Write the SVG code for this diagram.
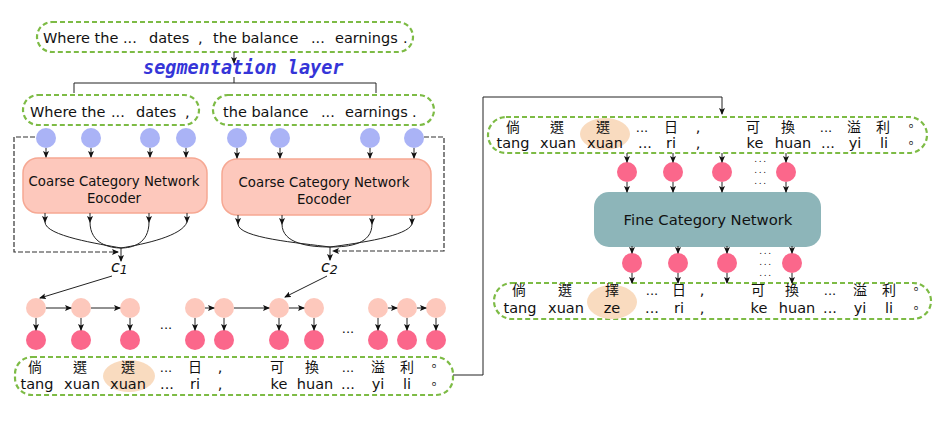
<svg xmlns="http://www.w3.org/2000/svg" width="934" height="436" viewBox="0 0 934 436">
<style>
.sent{fill:none;stroke:#7dbb45;stroke-width:2.2;stroke-dasharray:5 3}
.en{font-family:"DejaVu Sans","Liberation Sans",sans-serif;font-size:14.5px;fill:#111}
.zh{font-family:"Noto Sans CJK TC","Noto Sans CJK SC",sans-serif;font-size:14px;fill:#111;text-anchor:middle}
.stop{font-family:"Noto Sans CJK TC","Noto Sans CJK SC",sans-serif;font-size:12px;fill:#111;text-anchor:start}
.py{font-family:"DejaVu Sans","Liberation Sans",sans-serif;font-size:14.5px;fill:#111;text-anchor:middle}
.hl{fill:#f9dbbf}
.blue{fill:#aab3f6}
.peach{fill:#fdc8bc}
.pink{fill:#fb678b}
.enc{fill:#fdc8bc;stroke:#f6a893;stroke-width:1.5}
.enct{font-family:"DejaVu Sans","Liberation Sans",sans-serif;font-size:13.3px;fill:#111;text-anchor:middle}
.ln{fill:none;stroke:#222;stroke-width:1}
.dash{fill:none;stroke:#333;stroke-width:1.2;stroke-dasharray:5 2}
.dots{font-family:"DejaVu Sans","Liberation Sans",sans-serif;font-size:13px;fill:#111;text-anchor:middle}
.vdots{font-family:"DejaVu Sans","Liberation Sans",sans-serif;font-size:9px;letter-spacing:1.6px;fill:#111;text-anchor:middle}
</style>
<defs>
<marker id="ah" markerWidth="7" markerHeight="6" refX="6" refY="3" orient="auto" markerUnits="userSpaceOnUse">
<path d="M0,0 L7,3 L0,6 L1.5,3 Z" fill="#111"/>
</marker>
</defs>

<g id="top-sentence">
<rect class="sent" x="37" y="22" width="376" height="30" rx="15"/>
<text class="en" y="42.5"><tspan x="43">Where the</tspan><tspan x="123">...</tspan><tspan x="149">dates</tspan><tspan x="198">,</tspan><tspan x="213">the balance</tspan><tspan x="311">...</tspan><tspan x="335">earnings</tspan><tspan x="403">.</tspan></text>
</g>

<g id="segmentation-layer">
<text x="143" y="74" style="font-family:'DejaVu Sans Mono','Liberation Mono',monospace;font-size:18.5px;font-weight:bold;font-style:italic;fill:#3535d8">segmentation layer</text>
</g>

<g id="segment-1">
<rect class="sent" x="23" y="95" width="176" height="30" rx="15"/>
<text class="en" y="117"><tspan x="30">Where the</tspan><tspan x="111">...</tspan><tspan x="136">dates</tspan><tspan x="185">,</tspan></text>
</g>
<g id="segment-2">
<rect class="sent" x="213" y="95" width="221" height="30" rx="15"/>
<text class="en" y="117"><tspan x="223">the balance</tspan><tspan x="321">...</tspan><tspan x="345">earnings</tspan><tspan x="412">.</tspan></text>
</g>

<g id="embeddings-1">
<circle class="blue" cx="46" cy="138" r="10"/><circle class="blue" cx="91" cy="138" r="10"/><circle class="blue" cx="150" cy="138" r="10"/><circle class="blue" cx="186" cy="138" r="10"/>
</g>
<g id="embeddings-2">
<circle class="blue" cx="237" cy="138" r="10"/><circle class="blue" cx="280" cy="138" r="10"/><circle class="blue" cx="370" cy="138" r="10"/><circle class="blue" cx="414" cy="138" r="10"/>
</g>

<g id="encoder-1">
<rect class="enc" x="23" y="158" width="184" height="55" rx="15"/>
<text class="enct" x="114" y="186">Coarse Category Network</text>
<text class="enct" x="114" y="203">Eocoder</text>
</g>
<g id="encoder-2">
<rect class="enc" x="222" y="159" width="209" height="56" rx="15"/>
<text class="enct" x="324" y="187">Coarse Category Network</text>
<text class="enct" x="324" y="204">Eocoder</text>
</g>

<g id="c1"><text x="111" y="272" style="font-family:'DejaVu Sans',sans-serif;font-size:16px;font-style:italic;fill:#111">c<tspan dy="2" style="font-size:12.5px">1</tspan></text></g>
<g id="c2"><text x="321" y="272" style="font-family:'DejaVu Sans',sans-serif;font-size:16px;font-style:italic;fill:#111">c<tspan dy="2" style="font-size:12.5px">2</tspan></text></g>

<g id="decoder-states">
<circle class="peach" cx="36" cy="308" r="10"/><circle class="peach" cx="81" cy="308" r="10"/><circle class="peach" cx="130" cy="308" r="10"/><circle class="peach" cx="195" cy="308" r="10"/><circle class="peach" cx="224" cy="308" r="10"/><circle class="peach" cx="279" cy="308" r="10"/><circle class="peach" cx="314" cy="308" r="10"/><circle class="peach" cx="378" cy="308" r="10"/><circle class="peach" cx="407" cy="308" r="10"/><circle class="peach" cx="436" cy="308" r="10"/>
<circle class="pink" cx="36" cy="340" r="10"/><circle class="pink" cx="81" cy="340" r="10"/><circle class="pink" cx="130" cy="340" r="10"/><circle class="pink" cx="195" cy="340" r="10"/><circle class="pink" cx="224" cy="340" r="10"/><circle class="pink" cx="279" cy="340" r="10"/><circle class="pink" cx="314" cy="340" r="10"/><circle class="pink" cx="378" cy="340" r="10"/><circle class="pink" cx="407" cy="340" r="10"/><circle class="pink" cx="436" cy="340" r="10"/>
<text class="dots" x="166" y="329">...</text>
<text class="dots" x="348" y="333">...</text>
</g>

<g id="input-sentence">
<rect class="sent" x="15" y="357" width="438" height="38" rx="17"/>
<ellipse class="hl" cx="129" cy="376" rx="26" ry="16"/>
<text class="zh" y="372"><tspan x="35">倘</tspan><tspan x="80">選</tspan><tspan x="128">選</tspan></text>
<text class="dots" x="166" y="372">...</text>
<text class="zh" x="195" y="372">日</text>
<text class="py" x="220" y="372">,</text>
<text class="zh" y="372"><tspan x="277">可</tspan><tspan x="312">換</tspan></text>
<text class="dots" x="348" y="372">...</text>
<text class="zh" y="372"><tspan x="378">溢</tspan><tspan x="407">利</tspan></text>
<text class="stop" x="428" y="371">。</text>
<text class="py" y="389"><tspan x="37">tang</tspan><tspan x="82">xuan</tspan><tspan x="128">xuan</tspan><tspan x="167">...</tspan><tspan x="195">ri</tspan><tspan x="220">,</tspan><tspan x="279">ke</tspan><tspan x="315">huan</tspan><tspan x="348">...</tspan><tspan x="378">yi</tspan><tspan x="407">li</tspan></text>
<text class="stop" x="428" y="389">。</text>
</g>

<g id="coarse-output">
<rect class="sent" x="488" y="117" width="439" height="36" rx="18"/>
<ellipse class="hl" cx="605" cy="134" rx="25" ry="16"/>
<text class="zh" y="132"><tspan x="513">倘</tspan><tspan x="557">選</tspan><tspan x="603">選</tspan></text>
<text class="dots" x="642" y="132">...</text>
<text class="zh" x="671" y="132">日</text>
<text class="py" x="698" y="132">,</text>
<text class="zh" y="132"><tspan x="753">可</tspan><tspan x="788">換</tspan></text>
<text class="dots" x="826" y="132">...</text>
<text class="zh" y="132"><tspan x="854">溢</tspan><tspan x="883">利</tspan></text>
<text class="stop" x="905" y="131">。</text>
<text class="py" y="148"><tspan x="513">tang</tspan><tspan x="558">xuan</tspan><tspan x="605">xuan</tspan><tspan x="645">...</tspan><tspan x="671">ri</tspan><tspan x="698">,</tspan><tspan x="755">ke</tspan><tspan x="793">huan</tspan><tspan x="828">...</tspan><tspan x="855">yi</tspan><tspan x="884">li</tspan></text>
<text class="stop" x="905" y="148">。</text>
</g>

<g id="fine-input-embeddings">
<circle class="pink" cx="627" cy="172" r="10"/><circle class="pink" cx="673" cy="172" r="10"/><circle class="pink" cx="722" cy="172" r="10"/><circle class="pink" cx="786" cy="172" r="10"/>
<text class="vdots" x="761" y="162">...</text><text class="vdots" x="761" y="173">...</text><text class="vdots" x="761" y="184">...</text>
</g>

<g id="fine-network">
<rect x="594" y="192" width="227" height="55" rx="15" fill="#8db5b9"/>
<text x="708" y="225" style="font-family:'DejaVu Sans','Liberation Sans',sans-serif;font-size:14.8px;fill:#111;text-anchor:middle">Fine Category Network</text>
</g>

<g id="fine-output-embeddings">
<circle class="pink" cx="632" cy="263" r="10"/><circle class="pink" cx="678" cy="263" r="10"/><circle class="pink" cx="727" cy="263" r="10"/><circle class="pink" cx="792" cy="263" r="10"/>
<text class="vdots" x="766" y="254">...</text><text class="vdots" x="766" y="265">...</text><text class="vdots" x="766" y="276">...</text>
</g>

<g id="fine-output">
<rect class="sent" x="494" y="283" width="437" height="36" rx="18"/>
<ellipse class="hl" cx="612" cy="302" rx="25" ry="17"/>
<text class="zh" y="295"><tspan x="519">倘</tspan><tspan x="565">選</tspan><tspan x="612">擇</tspan></text>
<text class="dots" x="652" y="295">...</text>
<text class="zh" x="679" y="295">日</text>
<text class="py" x="702" y="295">,</text>
<text class="zh" y="295"><tspan x="758">可</tspan><tspan x="792">換</tspan></text>
<text class="dots" x="830" y="295">...</text>
<text class="zh" y="295"><tspan x="860">溢</tspan><tspan x="889">利</tspan></text>
<text class="stop" x="910" y="294">。</text>
<text class="py" y="313"><tspan x="520">tang</tspan><tspan x="566">xuan</tspan><tspan x="612">ze</tspan><tspan x="652">...</tspan><tspan x="679">ri</tspan><tspan x="702">,</tspan><tspan x="759">ke</tspan><tspan x="797">huan</tspan><tspan x="830">...</tspan><tspan x="860">yi</tspan><tspan x="889">li</tspan></text>
<text class="stop" x="910" y="313">。</text>
</g>

<g id="connectors">
<path class="ln" d="M234,52 V63" marker-end="url(#ah)"/>
<path class="ln" d="M234,77 V83 M74,93 V83 H376 V93"/>
<path class="ln" d="M46,148 V157" marker-end="url(#ah)"/><path class="ln" d="M91,148 V157" marker-end="url(#ah)"/><path class="ln" d="M150,148 V157" marker-end="url(#ah)"/><path class="ln" d="M186,148 V157" marker-end="url(#ah)"/>
<path class="ln" d="M237,148 V158" marker-end="url(#ah)"/><path class="ln" d="M280,148 V158" marker-end="url(#ah)"/><path class="ln" d="M370,148 V158" marker-end="url(#ah)"/><path class="ln" d="M414,148 V158" marker-end="url(#ah)"/>
<path class="ln" d="M45,213 V222" marker-end="url(#ah)"/><path class="ln" d="M90,213 V222" marker-end="url(#ah)"/><path class="ln" d="M149,213 V222" marker-end="url(#ah)"/><path class="ln" d="M187,213 V222" marker-end="url(#ah)"/>
<path class="ln" d="M238,215 V224" marker-end="url(#ah)"/><path class="ln" d="M282,215 V224" marker-end="url(#ah)"/><path class="ln" d="M372,215 V224" marker-end="url(#ah)"/><path class="ln" d="M412,215 V224" marker-end="url(#ah)"/>
<path class="ln" d="M45,222 C45,236 100,244 121,248 M90,222 C90,244 110,248 121,248 M149,222 C149,244 132,248 121,248 M187,222 C182,236 145,244 121,248"/>
<path class="ln" d="M238,224 C238,238 300,243 330,247 M282,224 C282,244 310,247 330,247 M372,224 C372,244 350,247 330,247 M412,224 C408,236 360,243 330,247"/>
<path class="ln" d="M121,248 V261" marker-end="url(#ah)"/>
<path class="ln" d="M330,247 V260" marker-end="url(#ah)"/>
<path class="dash" d="M35,137 H14 V252 H118" marker-end="url(#ah)"/>
<path class="dash" d="M424,137 H444 V251 H333" marker-end="url(#ah)"/>
<path class="ln" d="M112,276 L40,298" marker-end="url(#ah)"/>
<path class="ln" d="M327,276 L285,297" marker-end="url(#ah)"/>
<path class="ln" d="M46,308 H71" marker-end="url(#ah)"/><path class="ln" d="M91,308 H120" marker-end="url(#ah)"/><path class="ln" d="M205,308 H214" marker-end="url(#ah)"/><path class="ln" d="M234,308 H269" marker-end="url(#ah)"/><path class="ln" d="M289,308 H304" marker-end="url(#ah)"/><path class="ln" d="M388,308 H397" marker-end="url(#ah)"/><path class="ln" d="M417,308 H426" marker-end="url(#ah)"/>
<path class="ln" d="M36,318 V330" marker-end="url(#ah)"/><path class="ln" d="M81,318 V330" marker-end="url(#ah)"/><path class="ln" d="M130,318 V330" marker-end="url(#ah)"/><path class="ln" d="M195,318 V330" marker-end="url(#ah)"/><path class="ln" d="M224,318 V330" marker-end="url(#ah)"/><path class="ln" d="M279,318 V330" marker-end="url(#ah)"/><path class="ln" d="M314,318 V330" marker-end="url(#ah)"/><path class="ln" d="M378,318 V330" marker-end="url(#ah)"/><path class="ln" d="M407,318 V330" marker-end="url(#ah)"/><path class="ln" d="M436,318 V330" marker-end="url(#ah)"/>
<path class="ln" d="M453,375 H483 V97 H722 V114" marker-end="url(#ah)"/>
<path class="ln" d="M627,153 V162" marker-end="url(#ah)"/><path class="ln" d="M673,153 V162" marker-end="url(#ah)"/><path class="ln" d="M722,153 V162" marker-end="url(#ah)"/><path class="ln" d="M786,153 V162" marker-end="url(#ah)"/>
<path class="ln" d="M627,182 V192" marker-end="url(#ah)"/><path class="ln" d="M673,182 V192" marker-end="url(#ah)"/><path class="ln" d="M722,182 V192" marker-end="url(#ah)"/><path class="ln" d="M786,182 V192" marker-end="url(#ah)"/>
<path class="ln" d="M632,246 V253" marker-end="url(#ah)"/><path class="ln" d="M678,246 V253" marker-end="url(#ah)"/><path class="ln" d="M727,246 V253" marker-end="url(#ah)"/><path class="ln" d="M792,246 V253" marker-end="url(#ah)"/>
<path class="ln" d="M632,273 V283" marker-end="url(#ah)"/><path class="ln" d="M678,273 V283" marker-end="url(#ah)"/><path class="ln" d="M727,273 V283" marker-end="url(#ah)"/><path class="ln" d="M792,273 V283" marker-end="url(#ah)"/>
</g>
</svg>
